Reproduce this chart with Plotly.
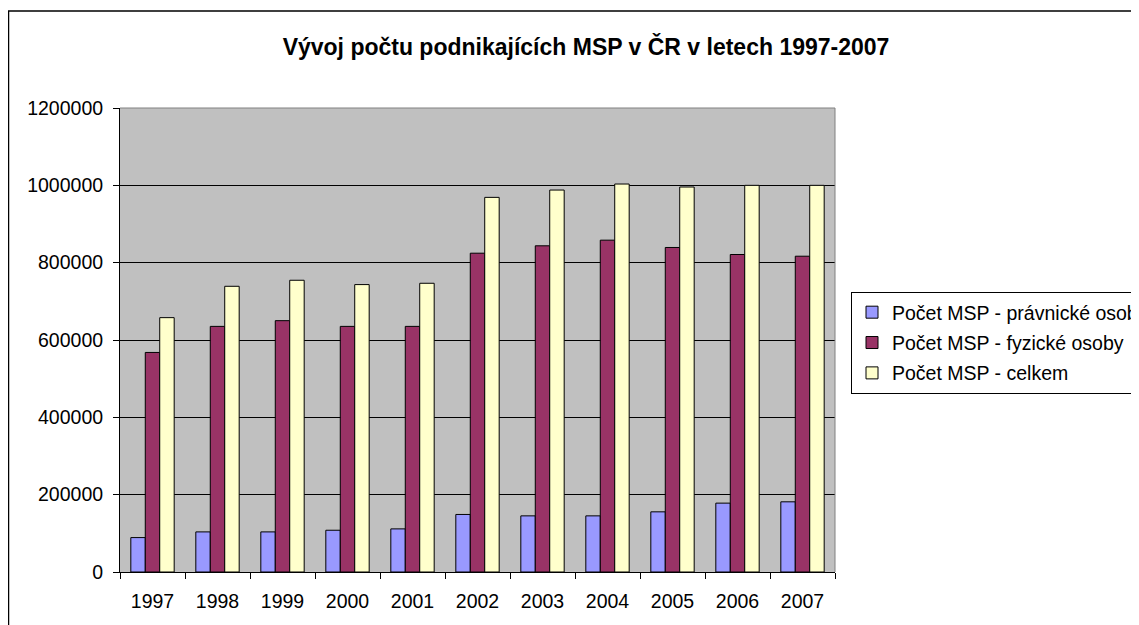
import plotly.graph_objects as go

years = ["1997", "1998", "1999", "2000", "2001", "2002", "2003", "2004", "2005", "2006", "2007"]
pravnicke = [89000, 103700, 103700, 108000, 111500, 148800, 145200, 145200, 155600, 178100, 181500]
fyzicke = [567800, 635200, 650000, 635200, 635200, 824500, 843600, 858200, 839300, 821100, 816700]
celkem = [657800, 738900, 754500, 743300, 746700, 968900, 987800, 1003400, 995600, 1000000, 1000000]

series_names = ["Počet MSP - právnické osoby", "Počet MSP - fyzické osoby", "Počet MSP - celkem"]
series_values = [pravnicke, fyzicke, celkem]
series_colors = ["#9999FF", "#993366", "#FFFFCC"]

title_text = "Vývoj počtu podnikajících MSP v ČR v letech 1997-2007"
y_ticks = [0, 200000, 400000, 600000, 800000, 1000000, 1200000]

FONT = "Liberation Sans, Arial, sans-serif"

fig = go.Figure()
for i, (name, vals, col) in enumerate(zip(series_names, series_values, series_colors)):
    fig.add_trace(go.Bar(
        x=years, y=vals, name=name, legendgroup=f"g{i}",
        marker=dict(color=col, line=dict(color="#000000", width=1)),
    ))

# page body has an 8px margin; work in reference pixels minus that offset
OFF = 8
W, H = 1139 - OFF, 625 - OFF
L, T = 120 - OFF, 108 - OFF
R = W - (835 - OFF)
B = H - (572 - OFF)
pw, ph = W - L - R, H - T - B

def px_x(x):
    return (x - OFF - L) / pw

def px_y(y):
    return (H - B - (y - OFF)) / ph

fig.update_layout(
    width=W, height=H,
    margin=dict(l=L, r=R, t=T, b=B, autoexpand=False),
    paper_bgcolor="#FFFFFF",
    plot_bgcolor="#C0C0C0",
    barmode="group",
    bargap=0.333,
    bargroupgap=0,
    font=dict(family=FONT, size=19.5, color="#000000"),
    title=dict(
        text="<b>" + title_text + "</b>",
        x=(586 - OFF) / W, xanchor="center",
        y=1 - (47 - OFF) / H, yanchor="middle",
        font=dict(family=FONT, size=23, color="#000000"),
    ),
    legend=dict(
        x=px_x(851), y=px_y(292), xanchor="left", yanchor="top",
        bgcolor="#FFFFFF", bordercolor="#000000", borderwidth=1,
        font=dict(family=FONT, size=19.5, color="#000000"),
        traceorder="grouped", tracegroupgap=2,
    ),
    xaxis=dict(
        type="category",
        showgrid=False,
        showline=True, linecolor="#000000", linewidth=1,
        ticks="outside", tickson="boundaries", ticklen=6, tickcolor="#000000",
        tickfont=dict(family=FONT, size=19.5, color="#000000"),
        ticklabelstandoff=12,
    ),
    yaxis=dict(
        range=[0, 1200000],
        tickvals=y_ticks,
        ticktext=[str(v) for v in y_ticks],
        showgrid=True, gridcolor="#000000", gridwidth=1,
        zeroline=False,
        showline=True, linecolor="#000000", linewidth=1,
        ticks="outside", ticklen=6, tickcolor="#000000",
        tickfont=dict(family=FONT, size=19.5, color="#000000"),
        ticklabelstandoff=6,
    ),
    shapes=[
        # plot area border (top/right grey)
        dict(type="path", xref="paper", yref="paper",
             path="M0,1 L1,1 L1,0", line=dict(color="#808080", width=1), layer="above"),
        # outer chart frame
        dict(type="path", xref="paper", yref="paper",
             path=f"M{px_x(8.5)},{px_y(640)} L{px_x(8.5)},{px_y(11)} L{px_x(1150)},{px_y(11)}",
             line=dict(color="#000000", width=1.5), layer="above"),
    ],
)

fig.write_html("out.html")
